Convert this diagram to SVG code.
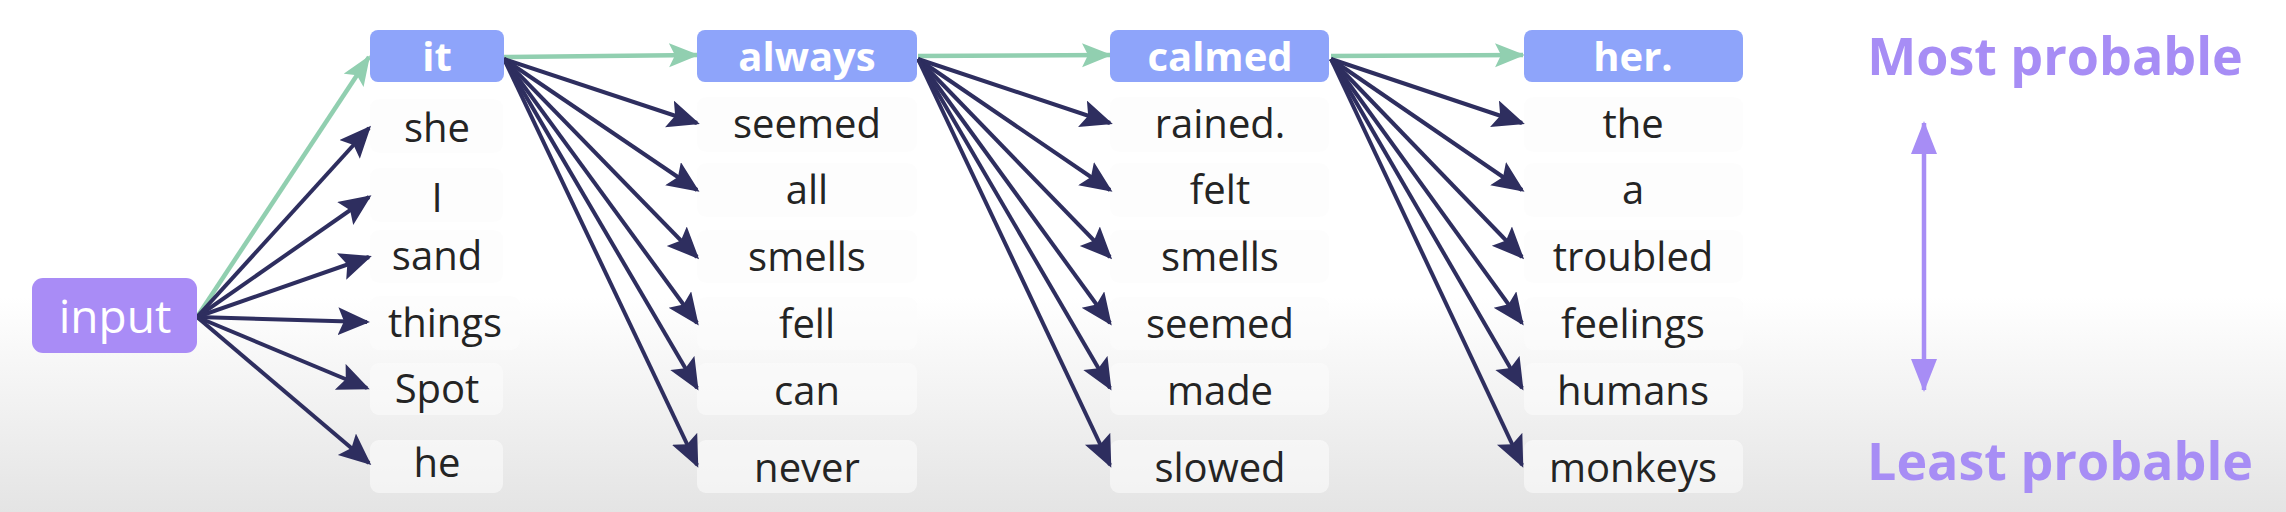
<svg xmlns="http://www.w3.org/2000/svg" width="2286" height="512" viewBox="0 0 2286 512">
<defs>
<linearGradient id="bg" x1="0" y1="0" x2="0" y2="1">
<stop offset="0" stop-color="#ffffff"/>
<stop offset="0.58" stop-color="#ffffff"/>
<stop offset="1" stop-color="#e4e4e4"/>
</linearGradient>
<marker id="ah" markerUnits="userSpaceOnUse" markerWidth="34" markerHeight="30" refX="29" refY="14" orient="auto"><path d="M0,0 L32,14 L0,28 L6,14 z" fill="#2e2e5f"/></marker>
<marker id="ahg" markerUnits="userSpaceOnUse" markerWidth="34" markerHeight="28" refX="28" refY="12" orient="auto"><path d="M0,0 L30,12 L0,24 L6,12 z" fill="#91cfb0"/></marker>
<marker id="ahp" markerUnits="userSpaceOnUse" markerWidth="36" markerHeight="28" refX="31" refY="13" orient="auto-start-reverse"><path d="M0,0 L33,13 L0,26 z" fill="#a78df5"/></marker>
</defs>
<style>
.w{font-family:"Open Sans","Liberation Sans",sans-serif;font-size:40px;fill:#242424;text-anchor:middle}
.h{font-family:"Open Sans","Liberation Sans",sans-serif;font-size:40px;font-weight:bold;fill:#ffffff;text-anchor:middle}
.hb{fill:#8ea4fa}
.c{fill:#fbfbfb;fill-opacity:0.6}
.e{stroke:#2e2e5f;stroke-width:4;fill:none;marker-end:url(#ah)}
.g{stroke:#91cfb0;stroke-width:4.5;fill:none;marker-end:url(#ahg)}
.lg{font-family:"Open Sans","Liberation Sans",sans-serif;font-size:52px;font-weight:bold;fill:#a78df5;text-anchor:middle}
</style>
<rect x="0" y="0" width="2286" height="512" fill="url(#bg)"/>

<g id="cells">
<rect class="c" x="370" y="99" width="133" height="54" rx="9"/>
<rect class="c" x="370" y="168" width="133" height="54" rx="9"/>
<rect class="c" x="370" y="230" width="133" height="53" rx="9"/>
<rect class="c" x="370" y="296" width="150" height="54" rx="9"/>
<rect class="c" x="370" y="363" width="133" height="52" rx="9"/>
<rect class="c" x="370" y="440" width="133" height="53" rx="9"/>
<rect class="c" x="697" y="97" width="220" height="55" rx="9"/>
<rect class="c" x="697" y="163" width="220" height="54" rx="9"/>
<rect class="c" x="697" y="230" width="220" height="53" rx="9"/>
<rect class="c" x="697" y="297" width="220" height="53" rx="9"/>
<rect class="c" x="697" y="363" width="220" height="52" rx="9"/>
<rect class="c" x="697" y="440" width="220" height="53" rx="9"/>
<rect class="c" x="1110" y="97" width="219" height="55" rx="9"/>
<rect class="c" x="1110" y="163" width="219" height="54" rx="9"/>
<rect class="c" x="1110" y="230" width="219" height="53" rx="9"/>
<rect class="c" x="1110" y="297" width="219" height="53" rx="9"/>
<rect class="c" x="1110" y="363" width="219" height="52" rx="9"/>
<rect class="c" x="1110" y="440" width="219" height="53" rx="9"/>
<rect class="c" x="1524" y="97" width="219" height="55" rx="9"/>
<rect class="c" x="1524" y="163" width="219" height="54" rx="9"/>
<rect class="c" x="1524" y="230" width="219" height="53" rx="9"/>
<rect class="c" x="1524" y="297" width="219" height="53" rx="9"/>
<rect class="c" x="1524" y="363" width="219" height="52" rx="9"/>
<rect class="c" x="1524" y="440" width="219" height="53" rx="9"/>
</g>

<g id="connectors">
<line class="g" x1="197" y1="317" x2="369" y2="57"/>
<line class="e" x1="197" y1="317" x2="369" y2="128"/>
<line class="e" x1="197" y1="317" x2="369" y2="197"/>
<line class="e" x1="197" y1="317" x2="369" y2="257"/>
<line class="e" x1="197" y1="317" x2="367" y2="322"/>
<line class="e" x1="197" y1="317" x2="367" y2="388"/>
<line class="e" x1="197" y1="317" x2="369" y2="463"/>

<line class="g" x1="504" y1="57" x2="697" y2="55"/>
<line class="e" x1="504" y1="59" x2="697" y2="123"/>
<line class="e" x1="504" y1="59" x2="697" y2="190"/>
<line class="e" x1="504" y1="59" x2="697" y2="257"/>
<line class="e" x1="504" y1="59" x2="697" y2="323"/>
<line class="e" x1="504" y1="59" x2="697" y2="388"/>
<line class="e" x1="504" y1="59" x2="697" y2="465"/>

<line class="g" x1="918" y1="56" x2="1110" y2="55"/>
<line class="e" x1="918" y1="59" x2="1110" y2="123"/>
<line class="e" x1="918" y1="59" x2="1110" y2="190"/>
<line class="e" x1="918" y1="59" x2="1110" y2="257"/>
<line class="e" x1="918" y1="59" x2="1110" y2="323"/>
<line class="e" x1="918" y1="59" x2="1110" y2="388"/>
<line class="e" x1="918" y1="59" x2="1110" y2="465"/>

<line class="g" x1="1331" y1="56" x2="1523" y2="55"/>
<line class="e" x1="1331" y1="59" x2="1522" y2="123"/>
<line class="e" x1="1331" y1="59" x2="1522" y2="190"/>
<line class="e" x1="1331" y1="59" x2="1522" y2="257"/>
<line class="e" x1="1331" y1="59" x2="1522" y2="323"/>
<line class="e" x1="1331" y1="59" x2="1522" y2="388"/>
<line class="e" x1="1331" y1="59" x2="1522" y2="465"/>

<line x1="1924" y1="390" x2="1924" y2="123" stroke="#a78df5" stroke-width="4.5" marker-end="url(#ahp)" marker-start="url(#ahp)"/>
</g>

<g id="node-input">
<rect x="32" y="278" width="165" height="75" rx="11" fill="#a98cf6"/>
<text x="115" y="333" font-family="Open Sans, Liberation Sans, sans-serif" font-size="46" fill="#ffffff" text-anchor="middle">input</text>
</g>

<g id="col1">
<rect class="hb" x="370" y="30" width="134" height="52" rx="8"/>
<text class="h" x="437" y="71">it</text>
<text class="w" x="437" y="142">she</text>
<text class="w" x="437" y="212">I</text>
<text class="w" x="437" y="270">sand</text>
<text class="w" x="445" y="337">things</text>
<text class="w" x="437" y="403">Spot</text>
<text class="w" x="437" y="477">he</text>
</g>

<g id="col2">
<rect class="hb" x="697" y="30" width="220" height="52" rx="8"/>
<text class="h" x="807" y="71">always</text>
<text class="w" x="807" y="138">seemed</text>
<text class="w" x="807" y="204">all</text>
<text class="w" x="807" y="271">smells</text>
<text class="w" x="807" y="338">fell</text>
<text class="w" x="807" y="405">can</text>
<text class="w" x="807" y="482">never</text>
</g>

<g id="col3">
<rect class="hb" x="1110" y="30" width="219" height="52" rx="8"/>
<text class="h" x="1220" y="71">calmed</text>
<text class="w" x="1220" y="138">rained.</text>
<text class="w" x="1220" y="204">felt</text>
<text class="w" x="1220" y="271">smells</text>
<text class="w" x="1220" y="338">seemed</text>
<text class="w" x="1220" y="405">made</text>
<text class="w" x="1220" y="482">slowed</text>
</g>

<g id="col4">
<rect class="hb" x="1524" y="30" width="219" height="52" rx="8"/>
<text class="h" x="1633" y="71">her.</text>
<text class="w" x="1633" y="138">the</text>
<text class="w" x="1633" y="204">a</text>
<text class="w" x="1633" y="271">troubled</text>
<text class="w" x="1633" y="338">feelings</text>
<text class="w" x="1633" y="405">humans</text>
<text class="w" x="1633" y="482">monkeys</text>
</g>

<g id="legend">
<text class="lg" x="2055" y="75">Most probable</text>
<text class="lg" x="2060" y="480">Least probable</text>
</g>
</svg>
